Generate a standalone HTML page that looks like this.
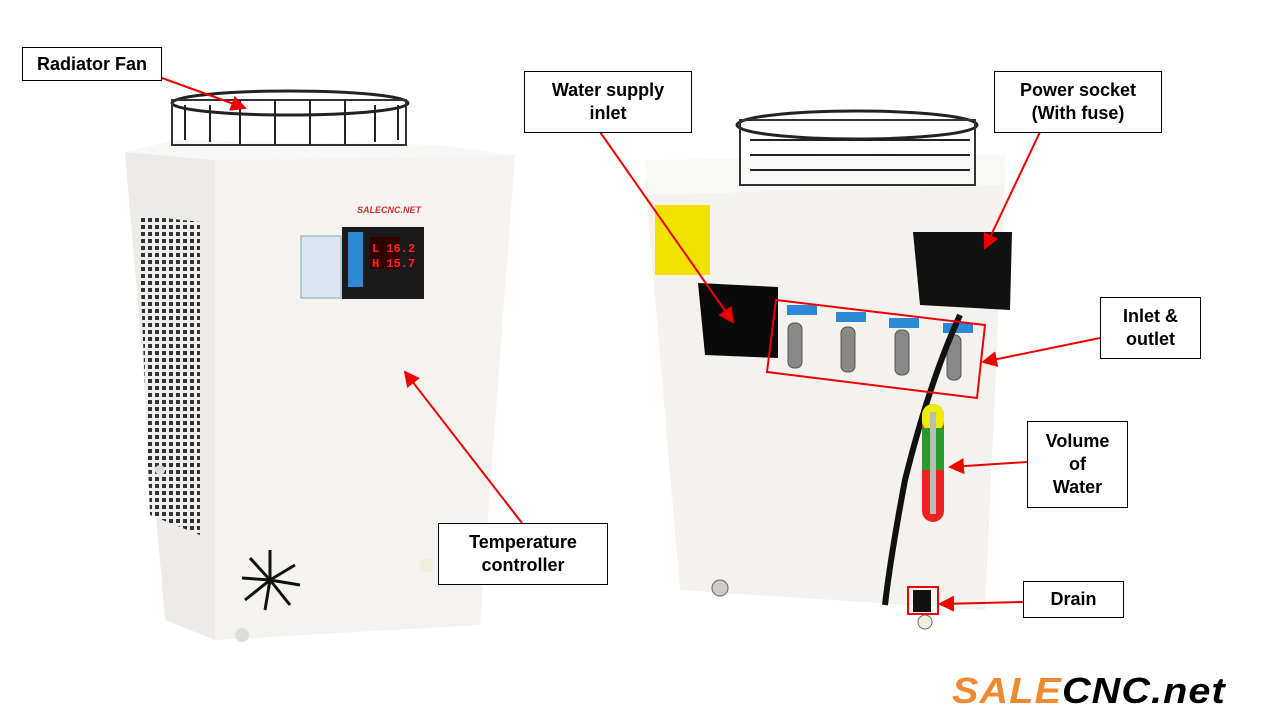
<!DOCTYPE html>
<html><head><meta charset="utf-8"><style>
html,body{margin:0;padding:0;background:#fff;}
.lbl{position:absolute;border:1px solid #000;background:#fff;font-family:"Liberation Sans",sans-serif;font-weight:bold;font-size:18px;text-align:center;display:flex;align-items:center;justify-content:center;line-height:23px;box-sizing:border-box;}
</style></head><body>
<div style="position:relative;width:1280px;height:720px;overflow:hidden">
<svg width="1280" height="720" style="position:absolute;left:0;top:0">
<defs>
<marker id="ar" markerWidth="8" markerHeight="8" refX="7" refY="4" orient="auto"><path d="M0,0 L8,4 L0,8 z" fill="#e00"/></marker>
<pattern id="vent" width="7" height="7" patternUnits="userSpaceOnUse"><rect width="7" height="7" fill="#eeeeec"/><rect x="1" y="1" width="4" height="4" fill="#333"/></pattern>
</defs>
<polygon points="125,152 215,160 215,640 165,620" fill="#ecebe8"/>
<polygon points="138,215 200,222 200,535 150,515" fill="url(#vent)"/>
<polygon points="215,160 515,155 480,625 215,640" fill="#f4f3f0"/>
<polygon points="125,152 215,160 515,155 440,145 175,140" fill="#f7f7f5"/>
<ellipse cx="290" cy="103" rx="118" ry="12" fill="none" stroke="#222" stroke-width="3"/>
<rect x="172" y="100" width="234" height="45" fill="none" stroke="#333" stroke-width="2"/>
<g stroke="#222" stroke-width="2"><line x1="185" y1="105" x2="185" y2="140"/><line x1="210" y1="105" x2="210" y2="142"/><line x1="240" y1="100" x2="240" y2="144"/><line x1="275" y1="100" x2="275" y2="145"/><line x1="310" y1="100" x2="310" y2="145"/><line x1="345" y1="100" x2="345" y2="144"/><line x1="375" y1="105" x2="375" y2="142"/><line x1="398" y1="105" x2="398" y2="140"/></g>
<rect x="301" y="236" width="40" height="62" fill="#dde6f0" stroke="#7aa"/>
<rect x="342" y="227" width="82" height="72" fill="#1a1a1a"/>
<rect x="348" y="232" width="15" height="55" fill="#2a8ad8"/>
<rect x="370" y="237" width="30" height="32" fill="#300"/>
<text x="372" y="252" font-family="Liberation Mono" font-size="12" font-weight="bold" fill="#f22">L 16.2</text>
<text x="372" y="267" font-family="Liberation Mono" font-size="12" font-weight="bold" fill="#f22">H 15.7</text>
<text x="357" y="213" font-family="Liberation Sans" font-size="9" font-style="italic" font-weight="bold" fill="#c33">SALECNC.NET</text>
<g stroke="#111" stroke-width="3"><line x1="270" y1="580" x2="270" y2="550"/><line x1="270" y1="580" x2="295" y2="565"/><line x1="270" y1="580" x2="300" y2="585"/><line x1="270" y1="580" x2="290" y2="605"/><line x1="270" y1="580" x2="265" y2="610"/><line x1="270" y1="580" x2="245" y2="600"/><line x1="270" y1="580" x2="242" y2="578"/><line x1="270" y1="580" x2="250" y2="558"/></g>
<polygon points="645,180 1005,172 985,610 680,590" fill="#f3f2ef"/>
<polygon points="645,160 1005,155 1005,185 648,195" fill="#f8f8f6"/>
<ellipse cx="857" cy="125" rx="120" ry="14" fill="none" stroke="#222" stroke-width="3"/>
<rect x="740" y="120" width="235" height="65" fill="none" stroke="#333" stroke-width="2"/>
<g stroke="#222" stroke-width="2"><line x1="750" y1="140" x2="970" y2="140"/><line x1="750" y1="155" x2="970" y2="155"/><line x1="750" y1="170" x2="970" y2="170"/></g>
<rect x="655" y="205" width="55" height="70" fill="#f2e200"/>
<polygon points="698,283 778,287 778,358 705,355" fill="#0a0a0a"/>
<polygon points="913,232 1012,232 1010,310 920,305" fill="#111"/>
<g fill="#888" stroke="#555"><rect x="788" y="323" width="14" height="45" rx="6"/><rect x="841" y="327" width="14" height="45" rx="6"/><rect x="895" y="330" width="14" height="45" rx="6"/><rect x="947" y="335" width="14" height="45" rx="6"/></g>
<g fill="#2a8ad8"><rect x="787" y="305" width="30" height="10"/><rect x="836" y="312" width="30" height="10"/><rect x="889" y="318" width="30" height="10"/><rect x="943" y="323" width="30" height="10"/></g>
<path d="M960,315 Q930,380 905,480 Q890,560 885,605" fill="none" stroke="#111" stroke-width="6"/>
<rect x="922" y="404" width="22" height="118" rx="11" fill="#e22"/>
<rect x="922" y="404" width="22" height="28" rx="11" fill="#ee0"/>
<rect x="922" y="428" width="22" height="42" fill="#2a9a2a"/>
<rect x="930" y="412" width="6" height="102" fill="#bbb"/>
<rect x="913" y="590" width="18" height="22" fill="#111"/>
<circle cx="720" cy="588" r="8" fill="#ccc" stroke="#666"/>
<circle cx="925" cy="622" r="7" fill="#eed" stroke="#666"/>
<circle cx="160" cy="470" r="5" fill="#ddd"/><circle cx="242" cy="635" r="7" fill="#ddd"/><circle cx="427" cy="565" r="7" fill="#eed"/>
<polygon points="776,300 985,325 977,398 767,372" fill="none" stroke="#e00" stroke-width="2"/>
<rect x="908" y="587" width="30" height="27" fill="none" stroke="#e00" stroke-width="2"/>
<g stroke="#e00" stroke-width="2" marker-end="url(#ar)">
<line x1="162" y1="78" x2="245" y2="108"/>
<line x1="600" y1="132" x2="733" y2="322"/>
<line x1="1040" y1="132" x2="985" y2="248"/>
<line x1="1100" y1="338" x2="983" y2="362"/>
<line x1="1027" y1="462" x2="950" y2="467"/>
<line x1="1023" y1="602" x2="940" y2="604"/>
<line x1="522" y1="523" x2="405" y2="372"/>
</g>
<text x="0" y="0" transform="translate(952,703) scale(1.1,1)" font-family="Liberation Sans" font-size="36" font-weight="bold" font-style="italic" fill="#f08a30" letter-spacing="1">SALE<tspan fill="#000">CNC.net</tspan></text>
</svg>
<div class="lbl" style="left:22px;top:47px;width:140px;height:34px">Radiator Fan</div>
<div class="lbl" style="left:524px;top:71px;width:168px;height:62px">Water supply<br>inlet</div>
<div class="lbl" style="left:994px;top:71px;width:168px;height:62px">Power socket<br>(With fuse)</div>
<div class="lbl" style="left:1100px;top:297px;width:101px;height:62px">Inlet &amp;<br>outlet</div>
<div class="lbl" style="left:1027px;top:421px;width:101px;height:87px">Volume<br>of<br>Water</div>
<div class="lbl" style="left:1023px;top:581px;width:101px;height:37px">Drain</div>
<div class="lbl" style="left:438px;top:523px;width:170px;height:62px">Temperature<br>controller</div>
</div>
</body></html>
